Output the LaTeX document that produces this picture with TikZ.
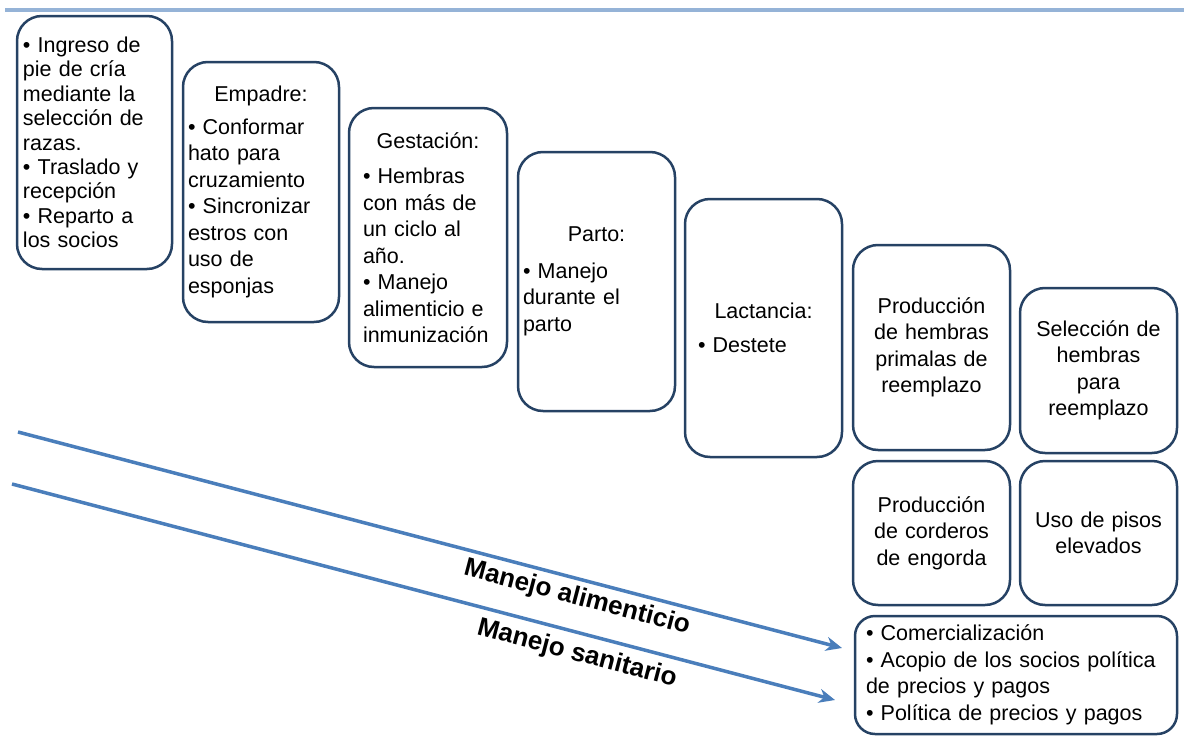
\documentclass[tikz,border=0pt]{standalone}
\usepackage{fontspec}
\setmainfont{Liberation Sans}
\usetikzlibrary{arrows.meta}
\definecolor{boxline}{RGB}{38,66,100}
\definecolor{arrowblue}{RGB}{74,126,187}
\definecolor{topline}{RGB}{149,179,215}
\setlength{\parindent}{0pt}
\newcommand{\headline}[1]{\hbox to \hsize{\hfil #1\hfil}}
\begin{document}
\begin{tikzpicture}[x=1pt,y=-1pt,
  card/.style={draw=boxline, line width=2.5pt, rounded corners=25pt, rectangle,
    inner sep=0pt, align=left, font=\fontsize{21.5}{26.5}\selectfont},
  cardc/.style={card, align=center},
  flow/.style={draw=arrowblue, line width=3.5pt, -{Stealth[length=16pt,width=14pt,inset=5pt]}},
  lbl/.style={font=\fontsize{26}{30}\selectfont\bfseries, inner sep=0pt, rotate=-14.7}
]
\useasboundingbox (0,0) rectangle (1184,736);
\draw[topline, line width=4pt] (5,10) -- (1184,10);

\node[card, font=\fontsize{21.5}{24.4}\selectfont, minimum width=155pt, minimum height=253pt, text width=143pt] (b1) at (94.5,142.5)
 {• Ingreso de\\ pie de cría\\ mediante la\\ selección de\\ razas.\\ • Traslado y\\ recepción\\ • Reparto a\\ los socios};

\node[card, minimum width=156pt, minimum height=260pt, text width=146pt] (b2) at (261,192)
 {\headline{Empadre:}\\[6pt] • Conformar\\ hato para\\ cruzamiento\\ • Sincronizar\\ estros con\\ uso de\\ esponjas};

\node[card, minimum width=158pt, minimum height=259pt, text width=130pt] (b3) at (428,237.5)
 {\headline{Gestación:}\\[9pt] • Hembras\\ con más de\\ un ciclo al\\ año.\\ • Manejo\\ alimenticio e\\ inmunización};

\node[card, minimum width=157pt, minimum height=259pt, text width=147pt] (b4) at (596.5,281.5)
 {\headline{Parto:}\\[10pt] • Manejo\\ durante el\\ parto};

\node[card, minimum width=157pt, minimum height=258pt, text width=131pt] (b5) at (763.5,328)
 {\headline{Lactancia:}\\[8pt] • Destete};

\node[cardc, minimum width=157pt, minimum height=205pt, text width=145pt] (b6) at (931.5,347.5)
 {Producción\\ de hembras\\ primalas de\\ reemplazo};

\node[cardc, minimum width=157pt, minimum height=165pt, text width=145pt] (b7) at (1098.5,370.5)
 {Selección de\\ hembras\\ para\\ reemplazo};

\node[cardc, minimum width=157pt, minimum height=144pt, text width=145pt] (b8) at (931.5,533)
 {Producción\\ de corderos\\ de engorda};

\node[cardc, minimum width=157pt, minimum height=144pt, text width=145pt] (b9) at (1098.5,533)
 {Uso de pisos\\ elevados};

\node[card, rounded corners=20pt, minimum width=322pt, minimum height=118pt, text width=300pt] (b10) at (1016,675)
 {• Comercialización\\ • Acopio de los socios política\\ de precios y pagos\\ • Política de precios y pagos};

\coordinate (a1s) at (18,432);
\coordinate (a1e) at (842,648);
\coordinate (a2s) at (12,484);
\coordinate (a2e) at (835,700);
\draw[flow] (a1s) -- (a1e);
\draw[flow] (a2s) -- (a2e);

\node[lbl] (l1) at (577,598) {Manejo alimenticio};
\node[lbl] (l2) at (577,654) {Manejo sanitario};
\end{tikzpicture}
\end{document}
